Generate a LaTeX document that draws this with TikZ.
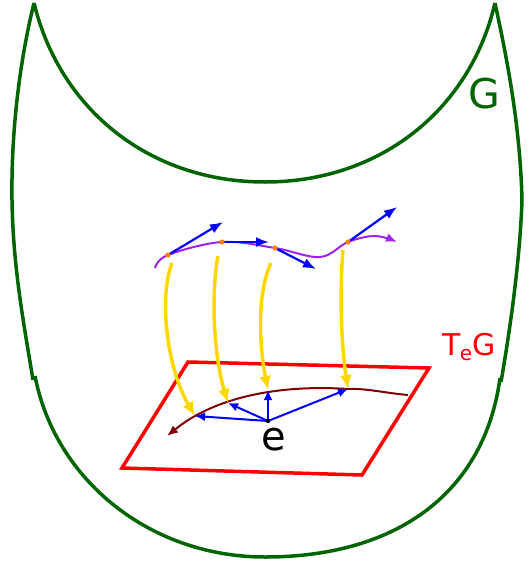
\documentclass[tikz,border=0pt]{standalone}
\usepackage{fontspec}
\setmainfont{DejaVu Sans}
\usetikzlibrary{arrows.meta}
\definecolor{verde}{RGB}{0,100,0}
\definecolor{violeta}{RGB}{160,32,240}
\definecolor{oro}{RGB}{255,215,0}
\definecolor{granate}{RGB}{128,0,0}
\begin{document}
\begin{tikzpicture}[x=1pt, y=-1pt,
  borde/.style={line width=3.5pt, verde},
  campo/.style={line width=2.2pt, blue, -{Latex[length=13pt,width=10pt]}},
  vect/.style={line width=2pt, blue, -{Latex[length=10pt,width=9pt]}},
  flujo/.style={line width=3.5pt, oro, -{Latex[length=14pt,width=12pt]}}]
\useasboundingbox (0,0) rectangle (531,565);

% Grupo G
\draw [borde] (34,3) .. controls (60,110) and (150,182) .. (265,182)
  .. controls (380,182) and (470,110) .. (495,3);
\draw [borde] (34,3) .. controls (20,60) and (11,130) .. (12,200)
  .. controls (13,270) and (25,330) .. (33,380);
\draw [borde] (35,376) .. controls (55,480) and (150,557) .. (265,557)
  .. controls (400,557) and (485,490) .. (500,378);
\draw [borde] (501,382) .. controls (510,330) and (520,260) .. (522,200)
  .. controls (520,120) and (505,50) .. (495,3);
\node [verde, anchor=base, font=\fontsize{41}{41}\selectfont] (G) at (484,108) {G};

% Curva y campo
\coordinate (c1) at (168,255);
\coordinate (c2) at (222,242);
\coordinate (c3) at (275,248);
\coordinate (c4) at (348,242);
\draw [violeta, line width=2pt, -{Latex[length=11pt,width=9pt]}] plot [smooth, tension=0.6]
  coordinates {(155,268) (c1) (c2) (c3) (320,257) (c4) (375,236) (397,242)};
\draw [campo] (c1) -- (223,222);
\draw [campo] (c2) -- (269,242);
\draw [campo] (c3) -- (316,269);
\draw [campo] (c4) -- (397,207);
\foreach \p in {c1,c2,c3,c4}
  \fill [orange] (\p) circle (2.6pt);

% Plano tangente
\draw [red, line width=3.5pt] (188,362) -- (429,368) -- (362,475) -- (122,468) -- cycle;
\node [red, anchor=base west, font=\fontsize{30}{30}\selectfont] (TeG) at (439,355)
  {T\kern-1pt\raisebox{-5pt}{\fontsize{20}{20}\selectfont e}G};

\coordinate (e) at (268,421);
\coordinate (t1) at (195,416);
\coordinate (t2) at (228,403);
\coordinate (t3) at (268,390);
\coordinate (t4) at (348,389);
\draw [granate, line width=2pt, -{Latex[length=11pt,width=9pt]}] (408,395)
  .. controls (385,393) and (365,388) .. (t4)
  .. controls (290,385) and (220,393) .. (167,436);
\foreach \t in {t1,t2,t3,t4}
  \draw [vect] (e) -- (\t);
\fill (e) circle (2.2pt);
\node [anchor=base, font=\fontsize{40}{40}\selectfont] (elab) at (274,450) {e};

% Flechas
\coordinate (s1) at (172,263);
\coordinate (s2) at (218,256);
\coordinate (s3) at (271,263);
\coordinate (s4) at (343,250);
\draw [flujo] (s1) .. controls (158,300) and (168,370) .. (t1);
\draw [flujo] (s2) .. controls (210,300) and (215,360) .. (t2);
\draw [flujo] (s3) .. controls (256,295) and (260,350) .. (t3);
\draw [flujo] (s4) .. controls (339,300) and (342,350) .. (t4);
\end{tikzpicture}
\end{document}
